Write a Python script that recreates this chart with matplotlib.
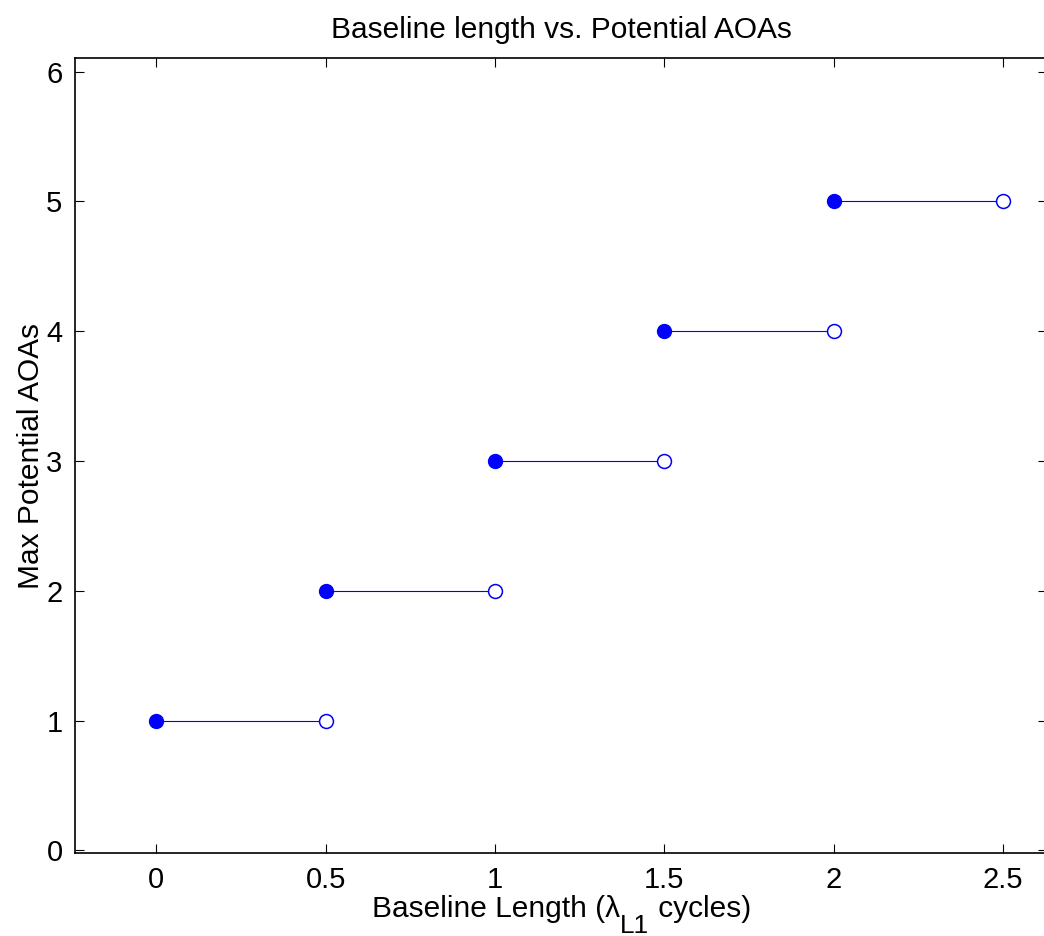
import matplotlib
matplotlib.use("Agg")
import matplotlib.pyplot as plt

plt.rcParams['font.family'] = ['Liberation Sans', 'DejaVu Sans']

starts = [0.0, 0.5, 1.0, 1.5, 2.0]
ends = [0.5, 1.0, 1.5, 2.0, 2.5]
counts = [1, 2, 3, 4, 5]
xticks = [0, 0.5, 1, 1.5, 2, 2.5]
xticklabels = ['0', '0.5', '1', '1.5', '2', '2.5']
yticks = [0, 1, 2, 3, 4, 5, 6]

W, H = 1044, 936
fig = plt.figure(figsize=(W/100, H/100), dpi=100)
ax = fig.add_axes([75/W, 1 - 853.3/H, (1047 - 75)/W, (853.3 - 57.7)/H])

blue = (0, 0, 1)
for x0, x1, y in zip(starts, ends, counts):
    ax.plot([x0, x1], [y, y], color=blue, lw=0.8, zorder=2)
    ax.plot([x0], [y], 'o', color=blue, ms=10, zorder=3)
    ax.plot([x1], [y], 'o', mfc='white', mec=blue, mew=1.1, ms=10, zorder=3)

ax.set_xlim(-0.24, 2.63)
ax.set_ylim(-0.023, 6.108)
ax.set_xticks(xticks)
ax.set_xticklabels(xticklabels)
ax.set_yticks(yticks)
ax.tick_params(direction='in', top=True, right=True, length=6.5, width=0.8,
               labelsize=21, pad=9)
for s in ax.spines.values():
    s.set_linewidth(1.2)

fs = 21.5
ax.set_title('Baseline length vs. Potential AOAs', fontsize=fs, pad=14)
ax.set_ylabel('Max Potential AOAs', fontsize=fs, labelpad=1)

# x label with large, low subscript (MATLAB style)
renderer = fig.canvas.get_renderer()
base_y = 1 - 917/H
sub_y = 1 - 933/H
parts = [('Baseline Length (\u03bb', fs, base_y), ('L1', fs*0.88, sub_y), (' cycles)', fs, base_y)]
texts = []
widths = []
for s, size, yy in parts:
    t = fig.text(0, yy, s, fontsize=size, va='baseline', ha='left')
    bb = t.get_window_extent(renderer=renderer)
    texts.append(t)
    widths.append(bb.width)
total = sum(widths)
cx = 561.5
xpos = cx - total/2
for t, w in zip(texts, widths):
    t.set_x(xpos / W)
    xpos += w

fig.savefig('out.png', dpi=100)
